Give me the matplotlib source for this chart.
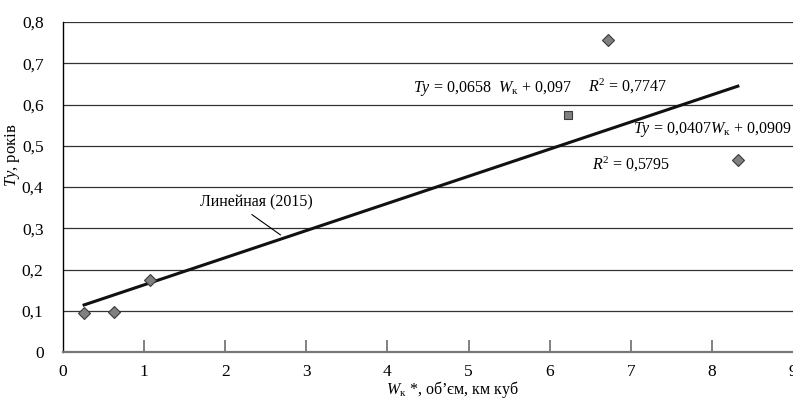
import matplotlib
matplotlib.use('Agg')
from matplotlib import pyplot as plt
import numpy as np

# data
w_2015 = [0.26, 0.63, 1.07, 6.72, 8.32]
ty_2015 = [0.095, 0.097, 0.175, 0.757, 0.466]
w_other = [6.23]
ty_other = [0.575]

# linear trend (2015) as printed on the chart
trend_k = 0.0658
trend_b = 0.097

x_ticks = [0, 1, 2, 3, 4, 5, 6, 7, 8, 9]
x_labels = ['0', '1', '2', '3', '4', '5', '6', '7', '8', '9']
y_ticks = [0, 0.1, 0.2, 0.3, 0.4, 0.5, 0.6, 0.7, 0.8]
y_labels = ['0', '0,1', '0,2', '0,3', '0,4', '0,5', '0,6', '0,7', '0,8']

plt.rcParams['font.family'] = ['Liberation Serif', 'DejaVu Serif']
plt.rcParams['mathtext.fontset'] = 'custom'
plt.rcParams['mathtext.rm'] = 'Liberation Serif'
plt.rcParams['mathtext.it'] = 'Liberation Serif:italic'
plt.rcParams['font.size'] = 12

fig = plt.figure(figsize=(7.93, 4.0), dpi=100)
ax = fig.add_axes([63/793, 48/400, 730/793, 330/400])

ax.set_xlim(0, 9)
ax.set_ylim(0, 0.8)

# horizontal grid lines
for y in y_ticks[1:]:
    ax.axhline(y, color='#333333', lw=0.9, zorder=1)

# trend line
xt = np.array([min(w_2015), max(w_2015)])
ax.plot(xt, trend_k * xt + trend_b, color='#111111', lw=2.2, zorder=3)

# points
ax.plot(w_2015, ty_2015, linestyle='none', marker='D', ms=6.5,
        markerfacecolor='#808080', markeredgecolor='#3a3a3a', mew=0.8, zorder=4)
ax.plot(w_other, ty_other, linestyle='none', marker='s', ms=6,
        markerfacecolor='#808080', markeredgecolor='#3a3a3a', mew=0.8, zorder=4)

# annotations
fs = 11.5
ax.text(4.31, 0.631, r'$\mathit{Ty}$ = 0,0658  $\mathit{W}_{\mathrm{к}}$ + 0,097',
        ha='left', va='baseline', fontsize=fs)
ax.text(6.47, 0.631, r'$\mathit{R}^{2}$ = 0,7747', ha='left', va='baseline', fontsize=fs)
ax.text(7.03, 0.532, r'$\mathit{Ty}$ = 0,0407$\mathit{W}_{\mathrm{к}}$ + 0,0909',
        ha='left', va='baseline', fontsize=fs)
ax.text(6.52, 0.442, r'$\mathit{R}^{2}$ = 0,5795', ha='left', va='baseline', fontsize=fs)
ax.text(1.69, 0.354, 'Линейная (2015)', ha='left', va='baseline', fontsize=fs)
ax.plot([2.33, 2.68], [0.333, 0.284], color='black', lw=0.8, zorder=3)

# axes styling
ax.spines['top'].set_visible(False)
ax.spines['right'].set_visible(False)
ax.spines['left'].set_color('black')
ax.spines['left'].set_linewidth(1.0)
ax.spines['bottom'].set_color('#777777')
ax.spines['bottom'].set_linewidth(1.6)

ax.set_xticks(x_ticks)
ax.set_xticklabels(x_labels)
ax.set_yticks(y_ticks)
ax.set_yticklabels(y_labels)
ax.tick_params(axis='x', direction='in', length=9, width=1.3, color='#777777',
               pad=9, labelsize=12.5)
ax.tick_params(axis='y', length=0, pad=14, labelsize=12.5)
for t in ax.xaxis.get_major_ticks():
    if t.get_loc() in (0, 9):
        t.tick1line.set_visible(False)

fig.text(12/793, 1 - 155/400, r'$\mathit{Ty}$, років', rotation=90,
         ha='center', va='center', fontsize=12)
fig.text(452/793, 1 - 394/400, r'$\mathit{W}_{\mathrm{к}}$ *, об’єм, км куб',
         ha='center', va='baseline', fontsize=11.5)

fig.savefig('out.png', dpi=100)
